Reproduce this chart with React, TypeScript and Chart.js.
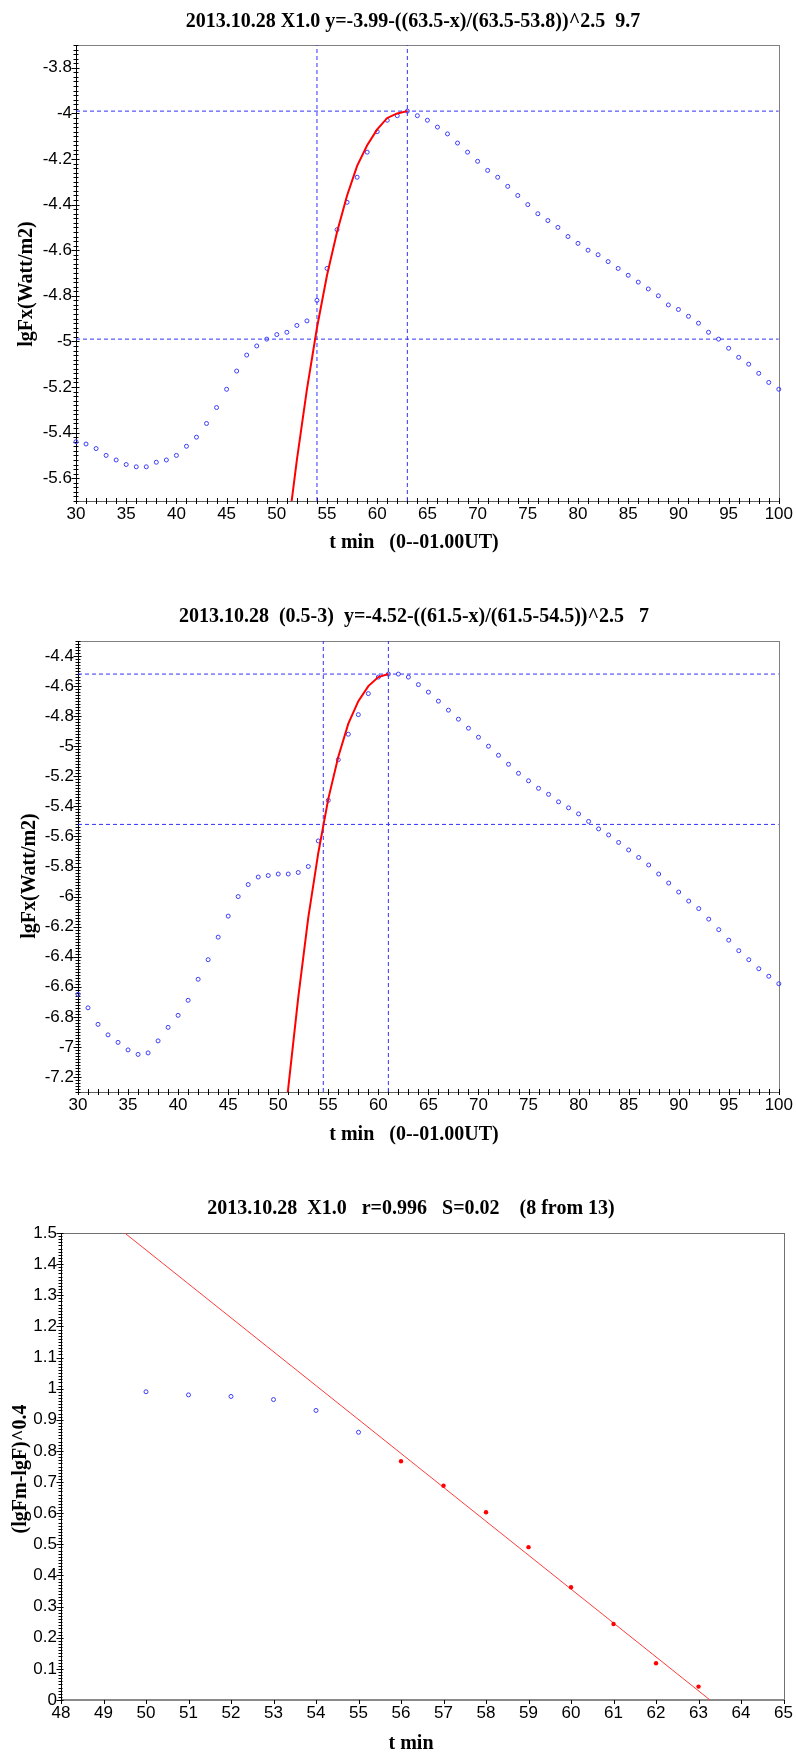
import React, { useEffect, useRef } from "react";
import { Chart, registerables } from "chart.js";

Chart.register(...registerables);

// ---------------- DATA ----------------
// Chart 1: 2013.10.28 X1.0 (lgFx vs t)
const minutes = [
  30, 31, 32, 33, 34, 35, 36, 37, 38, 39, 40, 41, 42, 43, 44, 45, 46, 47, 48, 49,
  50, 51, 52, 53, 54, 55, 56, 57, 58, 59, 60, 61, 62, 63, 64, 65, 66, 67, 68, 69,
  70, 71, 72, 73, 74, 75, 76, 77, 78, 79, 80, 81, 82, 83, 84, 85, 86, 87, 88, 89,
  90, 91, 92, 93, 94, 95, 96, 97, 98, 99, 100,
];
const lgF1 = [
  -5.44, -5.45, -5.47, -5.5, -5.52, -5.54, -5.55, -5.55, -5.53, -5.52, -5.5, -5.46, -5.42, -5.36, -5.29, -5.21, -5.13, -5.06, -5.02, -4.99,
  -4.97, -4.96, -4.93, -4.91, -4.82, -4.68, -4.51, -4.39, -4.28, -4.17, -4.08, -4.03, -4.01, -3.99, -4.01, -4.03, -4.06, -4.09, -4.13, -4.17,
  -4.21, -4.25, -4.28, -4.32, -4.36, -4.4, -4.44, -4.47, -4.5, -4.54, -4.57, -4.6, -4.62, -4.65, -4.68, -4.71, -4.74, -4.77, -4.8, -4.84,
  -4.86, -4.89, -4.92, -4.96, -4.99, -5.03, -5.07, -5.1, -5.14, -5.18, -5.21,
];
const fitX1 = [51.45, 52, 53, 54, 55, 56, 57, 58, 59, 60, 61, 62, 63];
const fitY1 = [-5.71, -5.52, -5.21, -4.94, -4.71, -4.52, -4.36, -4.23, -4.14, -4.07, -4.02, -4.0, -3.99];
const markX1 = [54, 63];
const markY1 = [-3.99, -4.99];
const xTicks1 = [30, 35, 40, 45, 50, 55, 60, 65, 70, 75, 80, 85, 90, 95, 100];
const yTicks1 = [-3.8, -4, -4.2, -4.4, -4.6, -4.8, -5, -5.2, -5.4, -5.6];

// Chart 2: 2013.10.28 (0.5-3)
const lgF2 = [
  -6.65, -6.74, -6.85, -6.92, -6.97, -7.02, -7.05, -7.04, -6.96, -6.87, -6.79, -6.69, -6.55, -6.42, -6.27, -6.13, -6.0, -5.92, -5.87, -5.86,
  -5.85, -5.85, -5.84, -5.8, -5.63, -5.36, -5.09, -4.92, -4.79, -4.65, -4.54, -4.52, -4.52, -4.54, -4.59, -4.64, -4.7, -4.76, -4.82, -4.88,
  -4.94, -5.0, -5.06, -5.12, -5.18, -5.23, -5.28, -5.32, -5.37, -5.41, -5.45, -5.5, -5.55, -5.59, -5.64, -5.69, -5.74, -5.79, -5.85, -5.91,
  -5.97, -6.03, -6.08, -6.15, -6.22, -6.29, -6.36, -6.42, -6.48, -6.53, -6.58,
];
const fitX2 = [50.94, 52, 53, 54, 55, 56, 57, 58, 59, 60, 61];
const fitY2 = [-7.31, -6.67, -6.14, -5.71, -5.35, -5.07, -4.85, -4.7, -4.6, -4.54, -4.52];
const markX2 = [54.5, 61];
const markY2 = [-4.52, -5.52];
const xTicks2 = [30, 35, 40, 45, 50, 55, 60, 65, 70, 75, 80, 85, 90, 95, 100];
const yTicks2 = [-4.4, -4.6, -4.8, -5, -5.2, -5.4, -5.6, -5.8, -6, -6.2, -6.4, -6.6, -6.8, -7, -7.2];

// Chart 3: (lgFm-lgF)^0.4 vs t
const excludedX3 = [50, 51, 52, 53, 54, 55];
const excludedY3 = [0.99, 0.98, 0.975, 0.965, 0.93, 0.86];
const usedX3 = [56, 57, 58, 59, 60, 61, 62, 63];
const usedY3 = [0.767, 0.688, 0.603, 0.491, 0.362, 0.244, 0.118, 0.043];
const regX3 = [49.5, 63.27];
const regY3 = [1.5, 0];
const xTicks3 = [48, 49, 50, 51, 52, 53, 54, 55, 56, 57, 58, 59, 60, 61, 62, 63, 64, 65];
const yTicks3 = [0, 0.1, 0.2, 0.3, 0.4, 0.5, 0.6, 0.7, 0.8, 0.9, 1, 1.1, 1.2, 1.3, 1.4, 1.5];

// ---------------- STYLE ----------------
const BLUE_PT = "rgb(60,60,255)";
const BLUE_DASH = "rgb(50,50,255)";
const RED = "rgb(255,0,0)";
const TICK_FONT = { family: '"Liberation Sans Narrow", "Liberation Sans", Arial, sans-serif', size: 17 };
const TEXT_FONT = 'bold 20px "Liberation Serif", "Times New Roman", serif';

const pts = (xs: number[], ys: number[]) => xs.map((x, i) => ({ x, y: ys[i] }));

const decoPlugin = {
  id: "deco",
  beforeDatasetsDraw(chart: any, _a: any, o: any) {
    const { ctx, chartArea: a, scales } = chart;
    ctx.save();
    ctx.strokeStyle = o.frameColor;
    ctx.lineWidth = 1;
    ctx.strokeRect(Math.round(a.left) + 0.5, Math.round(a.top) + 0.5, Math.round(a.right - a.left), Math.round(a.bottom - a.top));
    ctx.strokeStyle = o.bottomColor;
    ctx.lineWidth = o.bottomWidth;
    ctx.beginPath();
    const by = Math.round(a.bottom) + (o.bottomWidth % 2 ? 0.5 : 0);
    ctx.moveTo(a.left, by);
    ctx.lineTo(a.right + 1, by);
    ctx.stroke();
    ctx.strokeStyle = "#000";
    ctx.lineWidth = 1;
    ctx.beginPath();
    ctx.moveTo(Math.round(a.left) + 0.5, a.top);
    ctx.lineTo(Math.round(a.left) + 0.5, a.bottom + 1);
    ctx.stroke();
    const drawTicks = (axis: "x" | "y", s: any) => {
      const scale = scales[axis];
      const n = Math.round((s.max - s.min) / s.step);
      ctx.beginPath();
      for (let i = 0; i <= n; i++) {
        const v = s.min + i * s.step;
        const r = v / s.major;
        const isMajor = Math.abs(r - Math.round(r)) < 1e-6;
        const [outLen, inLen] = isMajor ? s.majorLen : s.minorLen;
        const p = Math.round(scale.getPixelForValue(v)) + 0.5;
        if (axis === "y") {
          const x0 = Math.round(a.left) + 0.5;
          ctx.moveTo(x0 - outLen, p);
          ctx.lineTo(x0 + inLen, p);
        } else {
          const y0 = Math.round(a.bottom);
          ctx.moveTo(p, y0 + outLen);
          ctx.lineTo(p, y0 - inLen);
        }
      }
      ctx.strokeStyle = "#000";
      ctx.lineWidth = 1;
      ctx.stroke();
    };
    drawTicks("x", o.xMinor);
    drawTicks("y", o.yMinor);
    ctx.restore();
  },
  afterDraw(chart: any, _a: any, o: any) {
    const { ctx } = chart;
    ctx.save();
    ctx.fillStyle = "#000";
    ctx.font = TEXT_FONT;
    ctx.textAlign = "center";
    ctx.textBaseline = "middle";
    ctx.fillText(o.title, o.titlePos[0], o.titlePos[1]);
    ctx.fillText(o.xTitle, o.xTitlePos[0], o.xTitlePos[1]);
    ctx.translate(o.yTitlePos[0], o.yTitlePos[1]);
    ctx.rotate(-Math.PI / 2);
    ctx.fillText(o.yTitle, 0, 0);
    ctx.restore();
  },
};

type Spec = {
  width: number;
  height: number;
  area: { left: number; top: number; right: number; bottom: number };
  xRange: [number, number];
  yRange: [number, number];
  xTicks: number[];
  yTicks: number[];
  datasets: any[];
  deco: any;
};

function makeConfig(s: Spec): any {
  return {
    type: "scatter",
    data: { datasets: s.datasets },
    plugins: [decoPlugin],
    options: {
      animation: false,
      responsive: false,
      maintainAspectRatio: false,
      events: [],
      layout: {
        padding: { left: 0, top: s.area.top, right: s.width - s.area.right, bottom: 0 },
      },
      plugins: {
        legend: { display: false },
        title: { display: false },
        tooltip: { enabled: false },
        deco: s.deco,
      },
      scales: {
        x: {
          type: "linear",
          min: s.xRange[0],
          max: s.xRange[1],
          grid: { display: false, drawTicks: false },
          border: { display: false },
          afterBuildTicks: (sc: any) => {
            sc.ticks = s.xTicks.map((v) => ({ value: v }));
          },
          afterFit: (sc: any) => {
            sc.height = s.height - s.area.bottom;
          },
          ticks: {
            color: "#000",
            font: TICK_FONT,
            padding: 3,
            maxRotation: 0,
            autoSkip: false,
            callback: (v: any) => String(v),
          },
        },
        y: {
          type: "linear",
          min: s.yRange[0],
          max: s.yRange[1],
          grid: { display: false, drawTicks: false },
          border: { display: false },
          afterBuildTicks: (sc: any) => {
            sc.ticks = s.yTicks.map((v) => ({ value: v }));
          },
          afterFit: (sc: any) => {
            sc.width = s.area.left;
          },
          ticks: {
            color: "#000",
            font: TICK_FONT,
            padding: 4,
            autoSkip: false,
            callback: (v: any) => String(v),
          },
        },
      },
    },
  };
}

const dashed = (data: any[]) => ({
  data,
  showLine: true,
  borderColor: BLUE_DASH,
  borderWidth: 1,
  borderDash: [4, 3],
  pointRadius: 0,
  fill: false,
});

function vLines(xs: number[], yr: [number, number]) {
  return xs.map((x) => dashed([{ x, y: yr[0] }, { x, y: yr[1] }]));
}
function hLines(ys: number[], xr: [number, number]) {
  return ys.map((y) => dashed([{ x: xr[0], y }, { x: xr[1], y }]));
}

const hollow = (data: any[]) => ({
  data,
  showLine: false,
  pointStyle: "circle",
  pointRadius: 2,
  pointBorderWidth: 1,
  pointBorderColor: BLUE_PT,
  pointBackgroundColor: "rgba(255,255,255,0)",
  clip: false,
});

const fitCurve = (data: any[], width: number) => ({
  data,
  showLine: true,
  borderColor: RED,
  borderWidth: width,
  pointRadius: 0,
  tension: 0,
  fill: false,
});

const X1: [number, number] = [30, 100];
const Y1: [number, number] = [-5.7, -3.7];
const X2: [number, number] = [30, 100];
const Y2: [number, number] = [-7.3, -4.3];
const X3: [number, number] = [48, 65];
const Y3: [number, number] = [0, 1.5];

const spec1: Spec = {
  width: 796,
  height: 580,
  area: { left: 76, top: 45, right: 780, bottom: 501 },
  xRange: X1,
  yRange: Y1,
  xTicks: xTicks1,
  yTicks: yTicks1,
  datasets: [
    fitCurve(pts(fitX1, fitY1), 2),
    hollow(pts(minutes, lgF1)),
    ...vLines(markX1, Y1),
    ...hLines(markY1, X1),
  ],
  deco: {
    frameColor: "#808080",
    bottomColor: "#606060",
    bottomWidth: 1,
    xMinor: { min: 30, max: 100, step: 1, major: 5, majorLen: [3, 3], minorLen: [3, 3] },
    yMinor: { min: -5.7, max: -3.7, step: 0.02, major: 0.2, majorLen: [5, 3], minorLen: [3, 2] },
    title: "2013.10.28 X1.0 y=-3.99-((63.5-x)/(63.5-53.8))^2.5  9.7",
    titlePos: [413, 22],
    xTitle: "t min   (0--01.00UT)",
    xTitlePos: [414, 543],
    yTitle: "lgFx(Watt/m2)",
    yTitlePos: [27, 284],
  },
};

const spec2: Spec = {
  width: 796,
  height: 585,
  area: { left: 78, top: 61, right: 781, bottom: 512 },
  xRange: X2,
  yRange: Y2,
  xTicks: xTicks2,
  yTicks: yTicks2,
  datasets: [
    fitCurve(pts(fitX2, fitY2), 2),
    hollow(pts(minutes, lgF2)),
    ...vLines(markX2, Y2),
    ...hLines(markY2, X2),
  ],
  deco: {
    frameColor: "#808080",
    bottomColor: "#606060",
    bottomWidth: 1,
    xMinor: { min: 30, max: 100, step: 1, major: 5, majorLen: [3, 3], minorLen: [3, 3] },
    yMinor: { min: -7.3, max: -4.3, step: 0.02, major: 0.2, majorLen: [5, 3], minorLen: [3, 2] },
    title: "2013.10.28  (0.5-3)  y=-4.52-((61.5-x)/(61.5-54.5))^2.5   7",
    titlePos: [414, 37],
    xTitle: "t min   (0--01.00UT)",
    xTitlePos: [414, 555],
    yTitle: "lgFx(Watt/m2)",
    yTitlePos: [30, 296],
  },
};

const spec3: Spec = {
  width: 796,
  height: 588,
  area: { left: 61, top: 68, right: 788, bottom: 535 },
  xRange: X3,
  yRange: Y3,
  xTicks: xTicks3,
  yTicks: yTicks3,
  datasets: [
    {
      data: pts(usedX3, usedY3),
      showLine: false,
      pointStyle: "circle",
      pointRadius: 2.2,
      pointBorderWidth: 0,
      pointBackgroundColor: RED,
      clip: false,
    },
    hollow(pts(excludedX3, excludedY3)),
    {
      data: pts(regX3, regY3),
      showLine: true,
      borderColor: "rgb(255,60,60)",
      borderWidth: 1,
      pointRadius: 0,
      fill: false,
    },
  ],
  deco: {
    frameColor: "#707070",
    bottomColor: "#8a8a8a",
    bottomWidth: 2,
    xMinor: { min: 48, max: 65, step: 1, major: 1, majorLen: [4, 0], minorLen: [4, 0] },
    yMinor: { min: 0, max: 1.5, step: 0.01, major: 0.1, majorLen: [5, 2], minorLen: [3, 1] },
    title: "2013.10.28  X1.0   r=0.996   S=0.02    (8 from 13)",
    titlePos: [411, 44],
    xTitle: "t min",
    xTitlePos: [411, 579],
    yTitle: "(lgFm-lgF)^0.4",
    yTitlePos: [21, 304],
  },
};

function ChartCanvas({ spec, top }: { spec: Spec; top: number }) {
  const ref = useRef<HTMLCanvasElement | null>(null);
  useEffect(() => {
    if (!ref.current) return;
    const chart = new Chart(ref.current, makeConfig(spec));
    return () => chart.destroy();
  }, [spec]);
  return (
    <canvas
      ref={ref}
      width={spec.width}
      height={spec.height}
      style={{ position: "absolute", left: 0, top, width: spec.width, height: spec.height, display: "block" }}
    />
  );
}

export default function App() {
  return (
    <div style={{ position: "absolute", left: 0, top: 0, width: 796, height: 1753, background: "#fff", overflow: "hidden" }}>
      <ChartCanvas spec={spec1} top={0} />
      <ChartCanvas spec={spec2} top={580} />
      <ChartCanvas spec={spec3} top={1165} />
    </div>
  );
}
